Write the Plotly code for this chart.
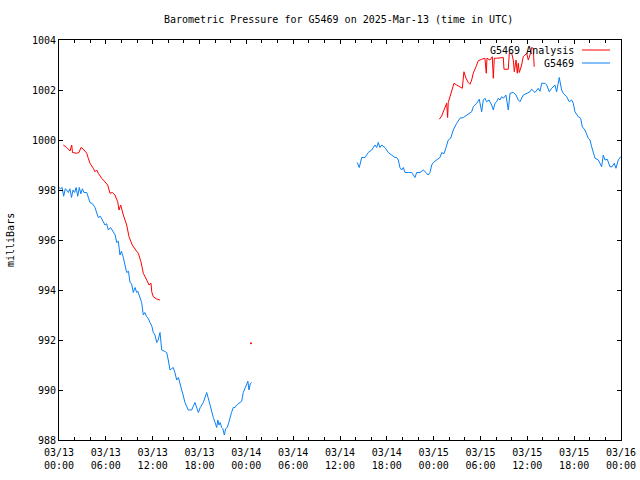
import pandas as pd
import plotly.graph_objects as go

BASE = pd.Timestamp("2025-03-13 00:00")

# Observed station pressure (hours since 03/13 00:00 UTC, mbar)
obs1_hours = [0.0, 0.2, 0.4, 0.6, 0.8, 1.0, 1.2, 1.4, 1.6, 1.8, 2.0, 2.2, 2.4, 2.6, 2.8, 3.0,
              3.2, 3.55, 3.97, 4.3, 4.61, 5.03, 5.3, 5.6, 5.89, 6.1, 6.32, 6.6, 6.96, 7.2, 7.39,
              7.6, 7.81, 8.0, 8.24, 8.45, 8.67, 8.9, 9.1, 9.3, 9.52, 9.75, 9.95, 10.1, 10.38,
              10.59, 10.8, 11.0, 11.2, 11.45, 11.66, 11.9, 12.08, 12.3, 12.52, 12.7, 12.94,
              13.16, 13.5, 13.8, 14.0, 14.22, 14.4, 14.64, 14.85, 15.08, 15.3, 15.5, 15.72,
              15.9, 16.14, 16.56, 17.0, 17.2, 17.42, 17.85, 18.1, 18.49, 18.7, 18.92, 19.1,
              19.34, 19.55, 19.77, 20.0, 20.2, 20.35, 20.5, 20.65, 20.84, 21.0, 21.18, 21.35,
              21.56, 21.75, 21.91, 22.1, 22.33, 22.55, 22.76, 23.0, 23.19, 23.4, 23.61, 23.85,
              24.05, 24.2, 24.34, 24.5, 24.69]
obs1_mbar = [998.10, 998.05, 998.10, 997.75, 998.05, 998.00, 997.90, 998.05, 997.70, 998.00,
             997.90, 998.10, 997.75, 998.10, 997.85, 998.05, 997.90, 997.90, 997.50, 997.45,
             997.30, 996.90, 996.95, 996.75, 996.60, 996.65, 996.40, 996.50, 996.30, 996.20,
             995.90, 995.95, 995.40, 995.55, 995.30, 995.05, 994.70, 994.75, 994.30, 994.25,
             993.90, 994.10, 993.90, 993.95, 993.70, 993.50, 993.00, 993.10, 992.95, 992.85,
             992.70, 992.55, 992.30, 992.20, 991.90, 992.00, 992.30, 991.60, 991.55, 991.50,
             991.20, 990.80, 990.85, 990.90, 990.70, 990.40, 990.50, 990.20, 990.00, 989.80,
             989.50, 989.20, 989.20, 989.35, 989.50, 989.10, 989.30, 989.50, 989.70, 989.90,
             989.70, 989.40, 989.15, 988.90, 988.70, 988.50, 988.80, 988.60, 988.70, 988.50,
             988.45, 988.20, 988.45, 988.50, 988.70, 988.90, 989.10, 989.30, 989.30, 989.40,
             989.45, 989.50, 989.55, 989.90, 990.10, 990.30, 990.35, 990.00, 990.25, 990.30]

obs2_hours = [38.21, 38.47, 38.78, 39.2, 39.62, 40.06, 40.48, 40.7, 40.9, 41.12, 41.34, 41.76,
              42.19, 42.62, 43.04, 43.26, 43.47, 43.68, 43.9, 44.11, 44.33, 44.75, 45.18, 45.61,
              45.82, 46.25, 46.67, 47.01, 47.3, 47.53, 47.75, 47.95, 48.39, 48.81, 49.03, 49.32,
              49.58, 49.87, 50.18, 50.51, 50.95, 51.37, 51.79, 52.23, 52.56, 52.87, 53.07, 53.51,
              53.84, 54.15, 54.36, 54.57, 54.79, 55.09, 55.43, 55.64, 55.85, 56.07, 56.28, 56.49,
              56.71, 56.94, 57.26, 57.56, 57.78, 58.2, 58.55, 58.84, 59.06, 59.48, 59.83, 60.34,
              60.55, 60.98, 61.4, 61.62, 61.84, 62.26, 62.48, 62.81, 63.12, 63.54, 63.75, 64.09,
              64.27, 64.4, 64.6, 65.04, 65.37, 65.68, 65.89, 66.1, 66.53, 66.83, 67.04, 67.38,
              67.81, 68.03, 68.24, 68.45, 68.67, 69.09, 69.52, 69.73, 69.95, 70.24, 70.59, 70.84,
              71.14, 71.35, 71.65, 71.96]
obs2_mbar = [999.10, 998.90, 999.30, 999.30, 999.50, 999.60, 999.80, 999.70, 999.90, 999.70,
             999.80, 999.70, 999.50, 999.40, 999.30, 999.30, 999.20, 998.90, 998.80, 998.90,
             998.70, 998.70, 998.70, 998.50, 998.70, 998.70, 998.80, 998.70, 998.60, 998.70,
             999.00, 999.10, 999.20, 999.30, 999.50, 999.45, 999.70, 1000.00, 1000.07, 1000.40,
             1000.67, 1000.87, 1000.90, 1001.00, 1001.07, 1001.13, 1001.33, 1001.47, 1001.63,
             1001.13, 1001.60, 1001.67, 1001.53, 1001.60, 1001.40, 1001.20, 1001.47, 1001.53,
             1001.67, 1001.60, 1001.73, 1001.67, 1001.80, 1001.20, 1001.87, 1001.90, 1001.80,
             1001.60, 1001.53, 1001.80, 1001.85, 1001.93, 1002.03, 1001.90, 1002.07, 1001.95,
             1002.27, 1002.27, 1002.20, 1001.93, 1002.07, 1002.20, 1001.93, 1002.50, 1002.20,
             1002.00, 1001.87, 1001.73, 1001.53, 1001.60, 1001.47, 1001.13, 1000.93, 1000.87,
             1000.53, 1000.40, 1000.07, 1000.00, 999.73, 999.53, 999.27, 999.20, 998.93, 999.40,
             999.20, 999.23, 998.93, 998.93, 999.07, 998.87, 999.20, 999.33]

# Analysis pressure
ana1_hours = [0.55, 0.99, 1.41, 1.63, 1.73, 2.27, 2.56, 2.82, 3.11, 3.55, 3.75, 3.97, 4.39,
              4.61, 4.83, 5.03, 5.47, 5.89, 6.24, 6.53, 6.83, 7.17, 7.52, 7.69, 7.9, 8.24,
              8.67, 8.97, 9.39, 9.83, 10.16, 10.5, 10.8, 11.24, 11.53, 11.79, 11.88, 12.08,
              12.52, 12.94]
ana1_mbar = [999.80, 999.70, 999.56, 999.80, 999.50, 999.47, 999.50, 999.70, 999.64, 999.47,
             999.27, 999.07, 998.87, 998.73, 998.80, 998.67, 998.47, 998.33, 998.20, 997.87,
             997.90, 997.80, 997.53, 997.20, 997.40, 997.00, 996.60, 996.13, 995.80, 995.60,
             995.47, 995.13, 994.67, 994.40, 994.20, 994.27, 993.93, 993.73, 993.64, 993.60]

ana_dot_hours = [24.6]
ana_dot_mbar = [991.87]

ana2_hours = [48.72, 49.03, 49.32, 49.67, 49.79, 49.87, 50.09, 50.44, 50.6, 50.95, 51.37,
              51.67, 51.88, 52.14, 52.43, 52.65, 52.87, 53.07, 53.42, 53.72, 54.15, 54.57,
              54.74, 54.83, 55.21, 55.51, 55.64, 55.77, 56.07, 56.49, 56.92, 57.01, 57.56,
              57.69, 58.0, 58.2, 58.33, 58.55, 58.71, 58.84, 58.97, 59.27, 59.48, 59.7, 59.92,
              60.12, 60.34, 60.55, 60.76, 60.88]
ana2_mbar = [1000.83, 1000.96, 1001.20, 1001.47, 1000.90, 1001.50, 1001.73, 1002.07, 1002.27,
             1002.20, 1002.13, 1002.07, 1002.73, 1002.47, 1002.30, 1002.23, 1002.40, 1002.67,
             1002.93, 1003.17, 1003.23, 1003.27, 1002.67, 1003.27, 1003.20, 1003.33, 1002.47,
             1003.27, 1003.27, 1003.30, 1003.30, 1002.83, 1002.83, 1003.47, 1003.47, 1003.20,
             1002.73, 1003.20, 1002.67, 1003.07, 1002.70, 1003.00, 1003.33, 1003.40, 1003.47,
             1003.20, 1003.40, 1003.70, 1003.67, 1002.93]

title_text = "Barometric Pressure for G5469 on 2025-Mar-13 (time in UTC)"
y_label = "milliBars"
legend_labels = ["G5469 Analysis", "G5469"]
colors = ["#ff0000", "#0a80f5"]


def to_time(hours):
    return [None if h is None else BASE + pd.Timedelta(hours=h) for h in hours]


obs_h = obs1_hours + [None] + obs2_hours
obs_p = obs1_mbar + [None] + obs2_mbar
ana_h = ana1_hours + [None] + ana2_hours
ana_p = ana1_mbar + [None] + ana2_mbar

FONT = "DejaVu Sans Mono"

fig = go.Figure()
fig.add_trace(go.Scatter(x=to_time(ana_h), y=ana_p, mode="lines",
                         line=dict(color=colors[0], width=1), connectgaps=False,
                         showlegend=False))
fig.add_trace(go.Scatter(x=to_time(ana_dot_hours), y=ana_dot_mbar, mode="markers",
                         marker=dict(color=colors[0], size=2), showlegend=False))
fig.add_trace(go.Scatter(x=to_time(obs_h), y=obs_p, mode="lines",
                         line=dict(color=colors[1], width=1), connectgaps=False,
                         showlegend=False))

L, R, T, B = 59, 19, 40, 40
W, H = 640, 480
pw, ph = W - L - R, H - T - B

fig.update_layout(
    width=W, height=H,
    margin=dict(l=L, r=R, t=T, b=B, autoexpand=False),
    paper_bgcolor="white", plot_bgcolor="white",
    font=dict(family=FONT, size=10, color="black"),
    showlegend=False,
)

fig.update_xaxes(
    type="date",
    range=[BASE, BASE + pd.Timedelta(hours=72)],
    dtick=6 * 3600 * 1000,
    tick0=BASE,
    tickformat="%m/%d<br>%H:%M",
    ticks="inside", ticklen=4, tickcolor="black", tickwidth=1,
    ticklabelstandoff=3,
    minor=dict(dtick=2 * 3600 * 1000, ticks="inside", ticklen=3, tickcolor="black", showgrid=False),
    showline=True, linecolor="black", linewidth=1, mirror="ticks",
    showgrid=False, zeroline=False,
    tickfont=dict(family=FONT, size=10),
)
fig.update_yaxes(
    range=[988, 1004],
    dtick=2, tick0=988,
    ticks="inside", ticklen=4, tickcolor="black", tickwidth=1,
    showline=True, linecolor="black", linewidth=1, mirror="ticks",
    showgrid=False, zeroline=False,
    tickfont=dict(family=FONT, size=10),
)

# Title
fig.add_annotation(text=title_text, xref="paper", yref="paper",
                   x=(338 - L) / pw, y=1 + (T - 20) / ph, xanchor="center", yanchor="middle",
                   showarrow=False, font=dict(family=FONT, size=10))
# Y label
fig.add_annotation(text=y_label, xref="paper", yref="paper", textangle=-90,
                   x=(10 - L) / pw, y=0.5, xanchor="center", yanchor="middle",
                   showarrow=False, font=dict(family=FONT, size=10))

# Key (gnuplot style: text right aligned, sample line to the right)
for i, (lab, col) in enumerate(zip(legend_labels, colors)):
    ypx = 50 + 13 * i
    yp = (H - B - ypx) / ph
    fig.add_annotation(text=lab, xref="paper", yref="paper",
                       x=(576 - L) / pw, y=yp, xanchor="right", yanchor="middle",
                       showarrow=False, font=dict(family=FONT, size=10))
    fig.add_shape(type="line", xref="paper", yref="paper",
                  x0=(582 - L) / pw, x1=(610 - L) / pw, y0=yp, y1=yp,
                  line=dict(color=col, width=1))

fig.write_html("out.html",
               config={"displayModeBar": False},
               post_script="document.body.style.margin='0';document.body.style.overflow='hidden';")
